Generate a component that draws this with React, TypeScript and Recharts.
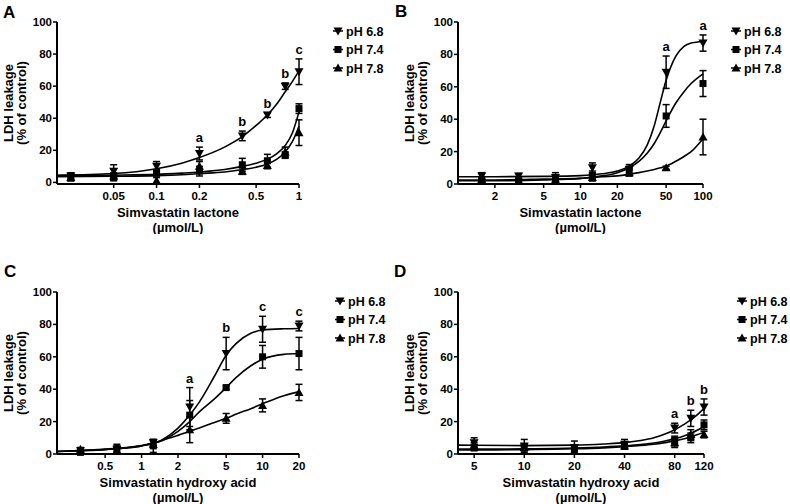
import React from 'react';
import { ComposedChart, Line, Scatter, XAxis, YAxis, ErrorBar, LabelList, Label } from 'recharts';

const FONT = "'Liberation Sans', Arial, Helvetica, sans-serif";

// ---------- Panel A: Simvastatin lactone (low range) ----------
const aConc = [0.025, 0.05, 0.1, 0.2, 0.4, 0.6, 0.8, 1.0];
const aPh68 = [4, 7, 10, 18, 29, 42, 60, 69];
const aPh68Err = [2, 4, 3, 4, 3, 1.5, 2, 8];
const aPh74 = [3, 3, 6, 7, 11, 13.5, 17, 46];
const aPh74Err = [2, 2, 2, 3, 4, 4, 2, 3];
const aPh78 = [3, 4, 1, 10, 7, 10.5, 19, 31];
const aPh78Err = [2, 2, 2, 3, 2, 2, 3, 8];
const aSig = ['', '', '', 'a', 'b', 'b', 'b', 'c'];
const aFitX = [0.02, 0.05, 0.1, 0.15, 0.2, 0.3, 0.4, 0.5, 0.6, 0.7, 0.8, 0.9, 1.0];
const aFit68 = [4.5, 5.5, 8.5, 12, 15.5, 22, 28.5, 35.5, 42, 49, 56.5, 63, 69.5];
const aFit74 = [4.2, 4.5, 5, 5.8, 6.5, 8, 10, 12, 14.5, 18, 23, 31, 44];
const aFit78 = [3.5, 3.8, 4.2, 4.8, 5.5, 6.5, 8, 9.5, 11.5, 14.5, 19, 25.5, 35];
const aTicks = [0.05, 0.1, 0.2, 0.5, 1];

// ---------- Panel B: Simvastatin lactone (high range) ----------
const bConc = [1.5625, 3.125, 6.25, 12.5, 25, 50, 100];
const bPh68 = [5, 5, 4, 10, 9, 69, 87];
const bPh68Err = [2, 1.5, 3, 3, 3, 10, 5];
const bPh74 = [2, 2, 3, 5, 8, 42, 62];
const bPh74Err = [1, 1, 2, 3, 3, 7, 8];
const bPh78 = [3, 2, 3, 4, 7, 10, 29];
const bPh78Err = [1, 1, 1, 2, 2, 1, 11];
const bSig = ['', '', '', '', '', 'a', 'a'];
const bFitX = [1, 2, 5, 10, 15, 20, 25, 30, 35, 40, 45, 50, 60, 70, 80, 100];
const bFit68 = [4.5, 4.5, 4.7, 5.2, 6.3, 8, 11, 16, 24, 36, 51, 64, 79, 85, 87, 88];
const bFit74 = [2, 2, 2.5, 3.5, 5, 7, 10, 14, 19, 25, 32, 39, 50, 57, 62, 68];
const bFit78 = [2.5, 2.5, 3, 3.5, 4.5, 5, 6, 7, 8, 9, 10, 11, 14, 17, 20, 28];
const bTicks = [2, 5, 10, 20, 50, 100];

// ---------- Panel C: Simvastatin hydroxy acid (low range) ----------
const cConc = [0.3125, 0.625, 1.25, 2.5, 5, 10, 20];
const cPh68 = [2, 3, 7, 29, 62, 77, 79];
const cPh68Err = [1, 3, 2, 12, 10, 8, 3];
const cPh74 = [1, 3, 5, 24, 41, 60, 62];
const cPh74Err = [1, 2, 4, 9, 1, 7, 10];
const cPh78 = [3, 2, 6, 15, 22, 30, 38];
const cPh78Err = [1, 2, 2, 8, 3, 4, 5];
const cSig = ['', '', '', 'a', 'b', 'c', 'c'];
const cFitX = [0.2, 0.3, 0.5, 0.75, 1, 1.5, 2, 2.5, 3, 4, 5, 6, 8, 10, 15, 20];
const cFit68 = [1.5, 2, 2.7, 3.7, 5, 9, 16, 24, 32, 48, 61, 68, 74.5, 76.5, 77.3, 77.5];
const cFit74 = [1.5, 2, 2.8, 3.8, 5, 8.5, 14, 20, 26, 34, 41, 47, 54.5, 58.5, 61.5, 62];
const cFit78 = [1.5, 2.2, 3, 4, 5.3, 8.5, 11.5, 14, 16, 19.5, 22, 24.5, 28, 31, 36, 38.5];
const cTicks = [0.5, 1, 2, 5, 10, 20];

// ---------- Panel D: Simvastatin hydroxy acid (high range) ----------
const dConc = [5, 10, 20, 40, 80, 100, 120];
const dPh68 = [7, 5, 4, 6, 16, 22, 29];
const dPh68Err = [3, 4, 4, 3, 3, 5, 5];
const dPh74 = [4, 4, 3, 5, 8, 10, 18];
const dPh74Err = [2, 2, 2, 2, 3, 3, 3];
const dPh78 = [5, 4, 2, 5, 7, 12, 12];
const dPh78Err = [2, 2, 2, 2, 3, 3, 2];
const dSig = ['', '', '', '', 'a', 'b', 'b'];
const dFitX = [4, 5, 10, 20, 30, 40, 50, 60, 70, 80, 90, 100, 110, 120];
const dFit68 = [5.5, 5.4, 5.2, 5.5, 6.2, 7, 8.3, 10, 12.3, 15, 18, 21, 24.5, 28];
const dFit74 = [3, 3, 3.2, 3.7, 4.3, 5, 5.8, 6.8, 8, 9.5, 11, 12.8, 14.8, 17];
const dFit78 = [2.5, 2.5, 2.7, 3.2, 3.8, 4.5, 5.2, 6, 7, 8, 9.2, 10.5, 12, 13.5];
const dTicks = [5, 10, 20, 40, 80, 120];

const yTicks = [0, 20, 40, 60, 80, 100];
const seriesNames = ['pH 6.8', 'pH 7.4', 'pH 7.8'];

// ---------- helpers ----------
const pts = (xs: number[], ys: number[], es: number[]) => xs.map((x, i) => ({ x, y: ys[i], err: es[i] }));
const fit = (xs: number[], ys: number[]) => xs.map((x, i) => ({ x, y: ys[i] }));
const sigPts = (xs: number[], ys: number[], es: number[], s: string[]) =>
  xs.map((x, i) => ({ x, y: ys[i] + es[i], sig: s[i] })).filter((p) => p.sig);

const markerEl = (kind: string, cx: number, cy: number, key?: any) => {
  if (kind === 'down') return <path key={key} d={`M${cx - 4.5},${cy - 3.5}L${cx + 4.5},${cy - 3.5}L${cx},${cy + 4.5}Z`} fill="#000" />;
  if (kind === 'up') return <path key={key} d={`M${cx - 4.5},${cy + 3.5}L${cx + 4.5},${cy + 3.5}L${cx},${cy - 4.5}Z`} fill="#000" />;
  return <rect key={key} x={cx - 3.5} y={cy - 3.5} width={7} height={7} fill="#000" />;
};
const DownTri = (p: any) => (p.cx == null ? <g /> : markerEl('down', p.cx, p.cy));
const Square = (p: any) => (p.cx == null ? <g /> : markerEl('square', p.cx, p.cy));
const UpTri = (p: any) => (p.cx == null ? <g /> : markerEl('up', p.cx, p.cy));
const Empty = () => <g />;

const SigLabel = (p: any) => {
  const vb = p.viewBox || p;
  const x = (vb.x ?? 0) + (vb.width ?? 0) / 2;
  const y = (vb.y ?? 0) + (vb.height ?? 0) / 2;
  return (
    <text x={x} y={y - 5} textAnchor="middle" fontFamily={FONT} fontWeight="bold" fontSize={13} fill="#000">
      {p.value}
    </text>
  );
};

const YTitle = (p: any) => {
  const vb = p.viewBox || { x: 0, y: 22, width: 57, height: 162 };
  const ax = vb.x + vb.width;
  const cy = vb.y + vb.height / 2;
  const common = { textAnchor: 'middle' as const, fontFamily: FONT, fontWeight: 'bold', fontSize: 13, fill: '#000' };
  return (
    <g>
      <text transform={`translate(${ax - 44.5},${cy}) rotate(-90)`} {...common}>LDH leakage</text>
      <text transform={`translate(${ax - 31.5},${cy}) rotate(-90)`} {...common}>(% of control)</text>
    </g>
  );
};

const makeXTitle = (title: string) => (p: any) => {
  const vb = p.viewBox || { x: 57, y: 184, width: 242, height: 50 };
  const cx = vb.x + vb.width / 2;
  const common = { textAnchor: 'middle' as const, fontFamily: FONT, fontWeight: 'bold', fontSize: 13, fill: '#000' };
  return (
    <g>
      <text x={cx} y={vb.y + 33} {...common}>{title}</text>
      <text x={cx} y={vb.y + 48} {...common}>(µmol/L)</text>
    </g>
  );
};

type PanelProps = {
  left: number; top: number; yW: number; mr: number;
  domain: [number, number]; ticks: number[]; xTitle: string;
  conc: number[]; v68: number[]; e68: number[]; v74: number[]; e74: number[]; v78: number[]; e78: number[];
  sig: string[]; fx: number[]; f68: number[]; f74: number[]; f78: number[];
};

const Panel = (p: PanelProps) => {
  const tickStyle = { fontFamily: FONT, fontWeight: 'bold', fontSize: 11.5, fill: '#000' };
  const lineProps = { dataKey: 'y', stroke: '#000', strokeWidth: 1.6, dot: false, activeDot: false, type: 'monotone' as const, isAnimationActive: false };
  const eb = { dataKey: 'err', direction: 'y' as const, width: 3.5, stroke: '#000', strokeWidth: 1.5 };
  return (
    <div style={{ position: 'absolute', left: p.left, top: p.top }}>
      <ComposedChart width={395} height={234} margin={{ top: 22, right: p.mr, bottom: 0, left: 0 }}>
        <XAxis
          dataKey="x" type="number" scale="log" domain={p.domain} ticks={p.ticks} height={50}
          tick={tickStyle} tickSize={4} tickMargin={4}
          axisLine={{ stroke: '#000', strokeWidth: 2 }} tickLine={{ stroke: '#000', strokeWidth: 1.5 }}
          tickFormatter={(v: number) => String(v)}
        >
          <Label content={makeXTitle(p.xTitle)} />
        </XAxis>
        <YAxis
          dataKey="y" type="number" domain={[0, 100]} ticks={yTicks} width={p.yW}
          tick={tickStyle} tickSize={4} tickMargin={1}
          axisLine={{ stroke: '#000', strokeWidth: 2 }} tickLine={{ stroke: '#000', strokeWidth: 1.5 }}
        >
          <Label content={YTitle} />
        </YAxis>
        <Line data={fit(p.fx, p.f68)} {...lineProps} />
        <Line data={fit(p.fx, p.f74)} {...lineProps} />
        <Line data={fit(p.fx, p.f78)} {...lineProps} />
        <Scatter data={pts(p.conc, p.v78, p.e78)} dataKey="y" shape={UpTri} isAnimationActive={false}>
          <ErrorBar {...eb} />
        </Scatter>
        <Scatter data={pts(p.conc, p.v74, p.e74)} dataKey="y" shape={Square} isAnimationActive={false}>
          <ErrorBar {...eb} />
        </Scatter>
        <Scatter data={pts(p.conc, p.v68, p.e68)} dataKey="y" shape={DownTri} isAnimationActive={false}>
          <ErrorBar {...eb} />
        </Scatter>
        <Scatter data={sigPts(p.conc, p.v68, p.e68, p.sig)} dataKey="y" shape={Empty} isAnimationActive={false}>
          <LabelList dataKey="sig" content={SigLabel} />
        </Scatter>
      </ComposedChart>
    </div>
  );
};

const legendLayout = [
  { mx: 338, tx: 346, ys: [31, 49.5, 68] },
  { mx: 736, tx: 744, ys: [31, 49.5, 68] },
  { mx: 340, tx: 348, ys: [301, 319.5, 338] },
  { mx: 742, tx: 750, ys: [301, 319.5, 338] },
];
const legendKinds = ['down', 'square', 'up'];
const panelLetters = [
  { t: 'A', x: 3, y: 18 },
  { t: 'B', x: 395, y: 17 },
  { t: 'C', x: 4, y: 277 },
  { t: 'D', x: 394, y: 277 },
];

export default function App() {
  return (
    <div style={{ position: 'absolute', left: 0, top: 0, width: 790, height: 504, overflow: 'hidden', background: '#fff' }}>
      <Panel left={0} top={0} yW={57} mr={96} domain={[0.02, 1]} ticks={aTicks} xTitle="Simvastatin lactone"
        conc={aConc} v68={aPh68} e68={aPh68Err} v74={aPh74} e74={aPh74Err} v78={aPh78} e78={aPh78Err}
        sig={aSig} fx={aFitX} f68={aFit68} f74={aFit74} f78={aFit78} />
      <Panel left={395} top={0} yW={63} mr={87} domain={[1, 100]} ticks={bTicks} xTitle="Simvastatin lactone"
        conc={bConc} v68={bPh68} e68={bPh68Err} v74={bPh74} e74={bPh74Err} v78={bPh78} e78={bPh78Err}
        sig={bSig} fx={bFitX} f68={bFit68} f74={bFit74} f78={bFit78} />
      <Panel left={0} top={270} yW={57} mr={96} domain={[0.2, 20]} ticks={cTicks} xTitle="Simvastatin hydroxy acid"
        conc={cConc} v68={cPh68} e68={cPh68Err} v74={cPh74} e74={cPh74Err} v78={cPh78} e78={cPh78Err}
        sig={cSig} fx={cFitX} f68={cFit68} f74={cFit74} f78={cFit78} />
      <Panel left={395} top={270} yW={63} mr={86} domain={[4, 120]} ticks={dTicks} xTitle="Simvastatin hydroxy acid"
        conc={dConc} v68={dPh68} e68={dPh68Err} v74={dPh74} e74={dPh74Err} v78={dPh78} e78={dPh78Err}
        sig={dSig} fx={dFitX} f68={dFit68} f74={dFit74} f78={dFit78} />
      <svg width={790} height={504} style={{ position: 'absolute', left: 0, top: 0, pointerEvents: 'none' }}>
        {panelLetters.map((l) => (
          <text key={l.t} x={l.x} y={l.y} fontFamily={FONT} fontWeight="bold" fontSize={17} fill="#000">{l.t}</text>
        ))}
        {legendLayout.map((lg, pi) => (
          <g key={pi}>
            {seriesNames.map((name, i) => (
              <g key={name}>
                <line x1={lg.mx - 5} x2={lg.mx + 5} y1={lg.ys[i]} y2={lg.ys[i]} stroke="#000" strokeWidth={1.5} />
                {markerEl(legendKinds[i], lg.mx, lg.ys[i])}
                <text x={lg.tx} y={lg.ys[i] + 4.5} fontFamily={FONT} fontWeight="bold" fontSize={12.5} fill="#000">{name}</text>
              </g>
            ))}
          </g>
        ))}
      </svg>
    </div>
  );
}
